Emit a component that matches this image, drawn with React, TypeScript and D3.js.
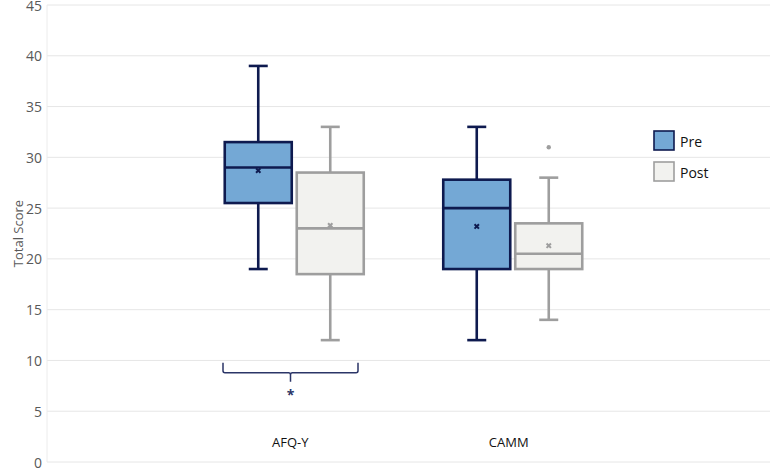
import React from 'react';
import * as d3 from 'd3';

const CATEGORIES = ['AFQ-Y', 'CAMM'];
const SERIES = ['Pre', 'Post'];

// [min, q1, median, q3, max] per category, per series
const PRE_STATS = [
  [19, 25.5, 29, 31.5, 39],
  [12, 19, 25, 27.8, 33],
];
const POST_STATS = [
  [12, 18.5, 23, 28.5, 33],
  [14, 19, 20.5, 23.5, 28],
];
const PRE_MEANS = [28.7, 23.2];
const POST_MEANS = [23.3, 21.3];
const PRE_OUTLIERS: number[][] = [[], []];
const POST_OUTLIERS: number[][] = [[], [31]];

const Y_TICKS = [0, 5, 10, 15, 20, 25, 30, 35, 40, 45];

const WIDTH = 770;
const HEIGHT = 476;

const STYLES: Record<string, { fill: string; stroke: string }> = {
  Pre: { fill: '#74a8d5', stroke: '#0e1a4f' },
  Post: { fill: '#f2f2ef', stroke: '#9e9e9e' },
};

const FONT = "'Open Sans', 'Noto Sans', sans-serif";

export default function App() {
  const svgRef = React.useRef<SVGSVGElement>(null);

  React.useEffect(() => {
    const svg = d3.select(svgRef.current);
    svg.selectAll('*').remove();

    const y = d3.scaleLinear().domain([0, 45]).range([462, 5]);
    const x = d3.scaleBand<string>().domain(CATEGORIES).range([185, 622]);
    const sub = d3.scaleBand<string>().domain(SERIES).range([0, x.bandwidth()]).paddingInner(0.0);
    const boxW = 67;

    // grid
    const grid = svg.append('g');
    for (const t of Y_TICKS) {
      grid.append('line')
        .attr('x1', 47).attr('x2', WIDTH)
        .attr('y1', y(t)).attr('y2', y(t))
        .attr('stroke', '#e6e6e6').attr('stroke-width', 1);
      svg.append('text')
        .attr('x', 42).attr('y', y(t))
        .attr('text-anchor', 'end').attr('dominant-baseline', 'central')
        .attr('font-family', FONT).attr('font-size', 14)
        .attr('fill', '#595959')
        .text(t);
    }
    grid.append('line')
      .attr('x1', 47).attr('x2', 47).attr('y1', y(45)).attr('y2', y(0))
      .attr('stroke', '#ececec');

    svg.append('text')
      .attr('transform', `translate(18, ${y(22.5)}) rotate(-90)`)
      .attr('text-anchor', 'middle').attr('dominant-baseline', 'central')
      .attr('font-family', FONT).attr('font-size', 13)
      .attr('fill', '#595959')
      .text('Total Score');

    const drawBox = (
      cx: number, s: number[], mean: number, outliers: number[],
      style: { fill: string; stroke: string },
    ) => {
      const g = svg.append('g');
      const [mn, q1, med, q3, mx] = s;
      const sw = 2.6;
      g.append('line').attr('x1', cx).attr('x2', cx).attr('y1', y(mx)).attr('y2', y(q3))
        .attr('stroke', style.stroke).attr('stroke-width', sw);
      g.append('line').attr('x1', cx).attr('x2', cx).attr('y1', y(q1)).attr('y2', y(mn))
        .attr('stroke', style.stroke).attr('stroke-width', sw);
      for (const v of [mn, mx]) {
        g.append('line').attr('x1', cx - 9.5).attr('x2', cx + 9.5).attr('y1', y(v)).attr('y2', y(v))
          .attr('stroke', style.stroke).attr('stroke-width', sw);
      }
      g.append('rect')
        .attr('x', cx - boxW / 2).attr('y', y(q3))
        .attr('width', boxW).attr('height', y(q1) - y(q3))
        .attr('fill', style.fill).attr('stroke', style.stroke).attr('stroke-width', sw);
      g.append('line').attr('x1', cx - boxW / 2).attr('x2', cx + boxW / 2)
        .attr('y1', y(med)).attr('y2', y(med))
        .attr('stroke', style.stroke).attr('stroke-width', sw);
      const m = 2.2;
      g.append('path')
        .attr('d', `M${cx - m},${y(mean) - m}L${cx + m},${y(mean) + m}M${cx + m},${y(mean) - m}L${cx - m},${y(mean) + m}`)
        .attr('stroke', style.stroke).attr('stroke-width', 2);
      for (const o of outliers) {
        g.append('circle').attr('cx', cx).attr('cy', y(o)).attr('r', 2.2).attr('fill', style.stroke);
      }
    };

    CATEGORIES.forEach((c, i) => {
      const x0 = x(c)!;
      const center = x0 + x.bandwidth() / 2;
      const preX = center - 36;
      const postX = center + 36;
      drawBox(preX, PRE_STATS[i], PRE_MEANS[i], PRE_OUTLIERS[i], STYLES.Pre);
      drawBox(postX, POST_STATS[i], POST_MEANS[i], POST_OUTLIERS[i], STYLES.Post);
      void sub;
      svg.append('text')
        .attr('x', center - 4).attr('y', 442)
        .attr('text-anchor', 'middle').attr('dominant-baseline', 'central')
        .attr('font-family', FONT).attr('font-size', 13)
        .attr('fill', '#111')
        .text(c);
    });

    // significance bracket under AFQ-Y
    const bx0 = x('AFQ-Y')! + 38;
    const bx1 = x('AFQ-Y')! + 173;
    const bmid = (bx0 + bx1) / 2;
    const by = y(8.8);
    const bTop = by - 10;
    svg.append('path')
      .attr('d', `M${bx0},${bTop} L${bx0},${by - 2} Q${bx0},${by} ${bx0 + 2},${by} L${bmid - 2},${by} Q${bmid},${by} ${bmid},${by + 2} L${bmid},${by + 9} M${bmid},${by + 2} Q${bmid},${by} ${bmid + 2},${by} L${bx1 - 2},${by} Q${bx1},${by} ${bx1},${by - 2} L${bx1},${bTop}`)
      .attr('fill', 'none').attr('stroke', '#2b3567').attr('stroke-width', 1.5);
    svg.append('text')
      .attr('x', bmid).attr('y', by + 22)
      .attr('text-anchor', 'middle').attr('dominant-baseline', 'central')
      .attr('font-family', FONT).attr('font-size', 14).attr('font-weight', 700)
      .attr('fill', '#2b3567')
      .text('*');

    // legend
    SERIES.forEach((s, i) => {
      const ly = 131 + i * 31;
      svg.append('rect')
        .attr('x', 654).attr('y', ly).attr('width', 20).attr('height', 19)
        .attr('fill', STYLES[s].fill).attr('stroke', STYLES[s].stroke).attr('stroke-width', 1.6);
      svg.append('text')
        .attr('x', 680).attr('y', ly + 10)
        .attr('dominant-baseline', 'central')
        .attr('font-family', FONT).attr('font-size', 14)
        .attr('fill', '#111')
        .text(s);
    });
  }, []);

  return (
    <div style={{ position: 'absolute', left: 0, top: 0, width: WIDTH, height: HEIGHT, background: '#fff' }}>
      <svg ref={svgRef} width={WIDTH} height={HEIGHT} />
    </div>
  );
}
